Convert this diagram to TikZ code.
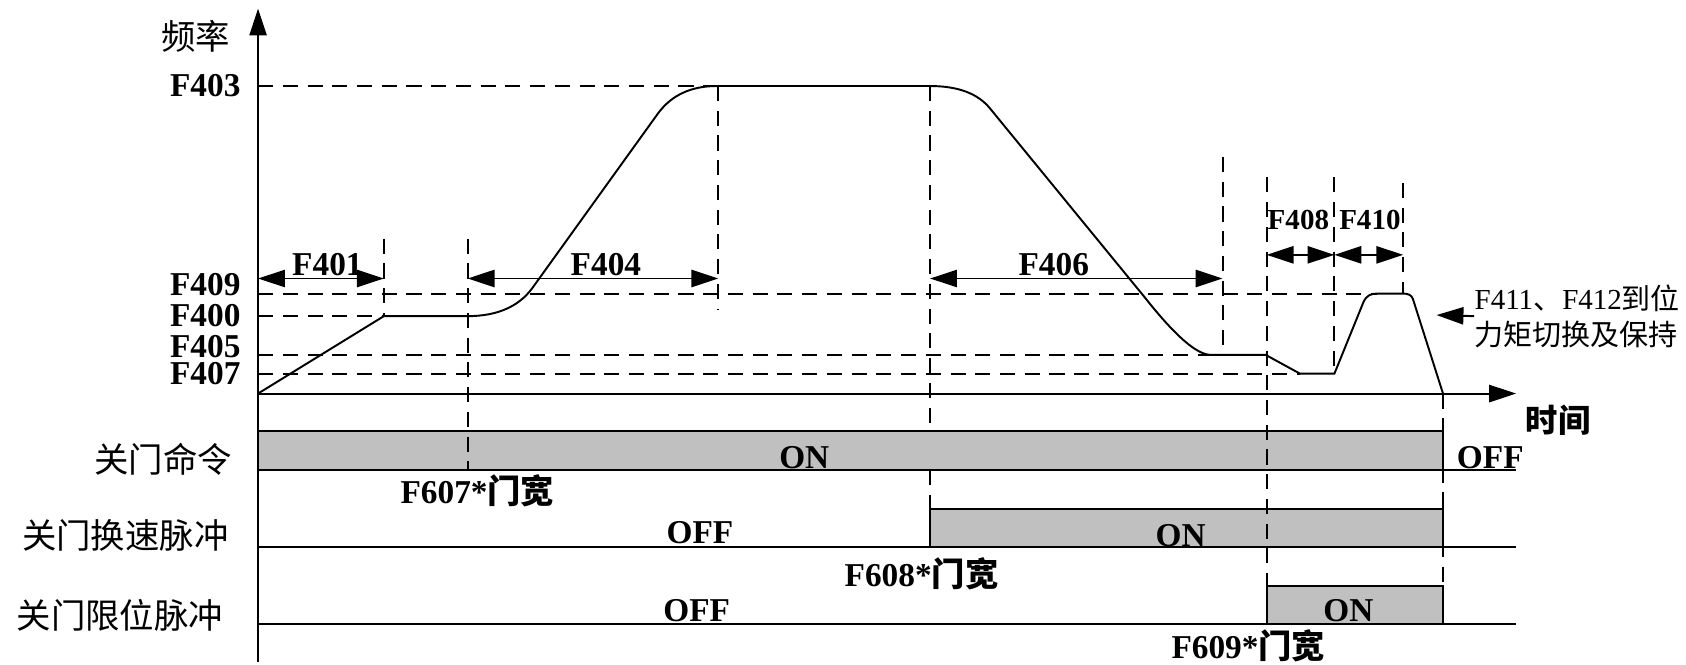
\documentclass[tikz,border=0pt]{standalone}
\usepackage{fontspec}
\setmainfont{Liberation Serif}
\newfontfamily\cjk{Noto Sans CJK SC}
\usepackage{xcolor}
\usetikzlibrary{arrows.meta}
\definecolor{bargray}{RGB}{192,192,192}

\begin{document}
\begin{tikzpicture}[x=0.5pt, y=-0.5pt, >={Triangle[length=12.5pt, width=8pt]},
    wire/.style={line width=0.9pt},
    guide/.style={line width=0.9pt, dash pattern=on 7pt off 4.5pt},
    fval/.style={inner sep=0pt, anchor=east, font=\bfseries\fontsize{15.5}{16}\selectfont},
    tag/.style={inner sep=0pt, font=\bfseries\fontsize{15.5}{16}\selectfont},
    smalltag/.style={inner sep=0pt, font=\bfseries\fontsize{13.5}{14}\selectfont},
    signal/.style={inner sep=0pt, anchor=east, font=\cjk\fontsize{16}{16}\selectfont},
    pulse/.style={line width=0.9pt, fill=bargray}]
    \useasboundingbox (0,0) rectangle (1568,618);

    % Hidden part of the F406 mark (under the first bar)
    \draw[guide] (865,80) -- (865,401);

    % Signal bars
    \draw[pulse] (240,401) rectangle (1342,437);
    \draw[wire]  (240,437) -- (1410,437);
    \draw[wire]  (240,509) -- (1410,509);
    \draw[pulse] (865,473) rectangle (1342,509);
    \draw[wire]  (240,580) -- (1410,580);
    \draw[pulse] (1178,545) rectangle (1342,580);

    % Axes
    \coordinate (O)    at (240,366);
    \coordinate (ytop) at (240,8);
    \coordinate (ybot) at (240,616);
    \coordinate (xend) at (1410,366);
    \draw[wire, ->] (ybot) -- (ytop);
    \draw[wire, ->] (O) -- (xend);
    \node[inner sep=0pt, font=\cjk\fontsize{16}{16}\selectfont] (flabel) at (182,34) {频率};
    \node[inner sep=0pt, font=\cjk\bfseries\fontsize{15}{15}\selectfont] (tlabel) at (1449,391) {时间};

    % Frequency levels
    \node[fval] (f403) at (224,80)    {F403};
    \node[fval] (f409) at (224,265)   {F409};
    \node[fval] (f400) at (224,293.5) {F400};
    \node[fval] (f405) at (224,322.5) {F405};
    \node[fval] (f407) at (224,347.5) {F407};
    \draw[guide] (240,80)    -- (666,80);
    \draw[guide] (240,273)   -- (1281,273);
    \draw[guide] (240,294)   -- (357,294);
    \draw[guide] (240,330)   -- (1126,330);
    \draw[guide] (240,347.5) -- (1209,347.5);

    % Time marks
    \draw[guide] (357,222)  -- (357,294);
    \draw[guide] (435,222)  -- (435,437);
    \draw[guide] (668,80)   -- (668,288);
    \draw[guide] (865,437)  -- (865,473);
    \draw[guide] (1137,146) -- (1137,330);
    \draw[guide] (1178,165) -- (1178,580);
    \draw[guide] (1241,165) -- (1241,347.5);
    \draw[guide] (1305,170) -- (1305,273);
    \draw[guide] (1342,366) -- (1342,580);

    % Speed curve
    \draw[wire] (O) -- (357,294) -- (435,294)
        .. controls (462.5,294) and (482.5,285) .. (495,268) -- (612,105.4)
        .. controls (624.5,88.5) and (642.6,80) .. (666.5,80) -- (865,80)
        .. controls (891,80) and (909.4,87) .. (920.6,100.7) -- (1065,277)
        .. controls (1092.7,312) and (1113,330) .. (1126,330) -- (1177,330)
        -- (1209,347.5) -- (1241,347.5) -- (1268,281)
        .. controls (1271,274.5) and (1275,273) .. (1281,273) -- (1304.5,273)
        .. controls (1309,273) and (1312.7,274) .. (1314,278) -- (1342,366);

    % Time spans
    \coordinate (s0) at (240,259);
    \coordinate (s1) at (357,259);
    \coordinate (s2) at (435,259);
    \coordinate (s3) at (668,259);
    \coordinate (s4) at (865,259);
    \coordinate (s5) at (1137,259);
    \coordinate (s6) at (1178,237);
    \coordinate (s7) at (1241,237);
    \coordinate (s8) at (1305,237);
    \draw[wire, <->] (s0) -- (s1);
    \draw[wire, <->] (s2) -- (s3);
    \draw[wire, <->] (s4) -- (s5);
    \draw[wire, <->] (s6) -- (s7);
    \draw[wire, <->] (s7) -- (s8);
    \node[tag] (f401) at (304.5,246) {F401};
    \node[tag] (f404) at (563.5,246) {F404};
    \node[tag] (f406) at (980,246)   {F406};
    \node[smalltag] (f408) at (1207.5,204.5) {F408};
    \node[smalltag] (f410) at (1274,204.5)   {F410};

    % Torque note
    \node[inner sep=0pt, anchor=west, align=left, font=\fontsize{13.5}{16.7}\selectfont]
        (note) at (1371,294) {F411{\cjk 、}F412{\cjk 到位}\\{\cjk 力矩切换及保持}};
    \coordinate (tip) at (1336,293);
    \draw[wire, ->] (note.west) -- (tip);

    % Signal names and states
    \node[signal] (close)  at (216,427) {关门命令};
    \node[signal] (slow)   at (213,498) {关门换速脉冲};
    \node[signal] (limit)  at (208,572) {关门限位脉冲};
    \node[tag] (on1)  at (748,426)  {ON};
    \node[tag] (off1) at (1386,426) {OFF};
    \node[tag] (off2) at (651,495)  {OFF};
    \node[tag] (on2)  at (1098,498) {ON};
    \node[tag] (off3) at (648,568)  {OFF};
    \node[tag] (on3)  at (1254,568) {ON};
    \node[tag] (w607) at (444,456)  {F607*{\cjk 门宽}};
    \node[tag] (w608) at (857,534)  {F608*{\cjk 门宽}};
    \node[tag] (w609) at (1161,601) {F609*{\cjk 门宽}};
\end{tikzpicture}
\end{document}
